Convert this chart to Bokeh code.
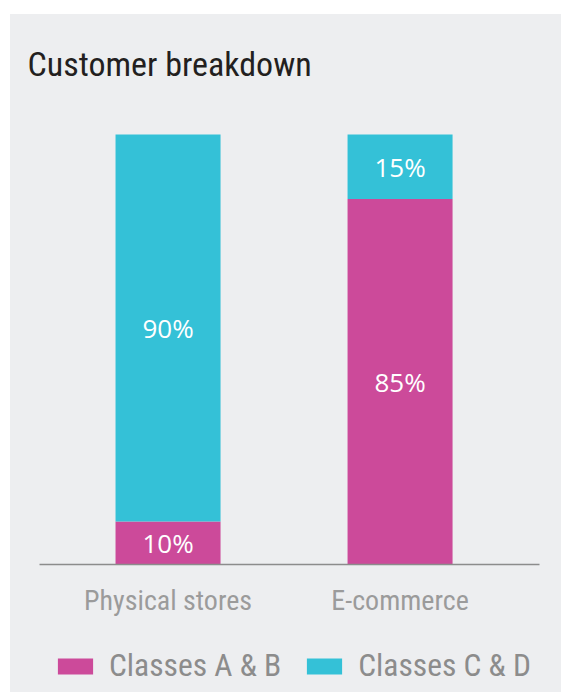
from bokeh.plotting import figure
from bokeh.models import (ColumnDataSource, Range1d, FixedTicker, Legend, LegendItem, Spacer)
from bokeh.layouts import column, row
from bokeh.core.properties import value
from bokeh.embed import file_html
from bokeh.resources import INLINE

# ---- data ----
categories = ["Physical stores", "E-commerce"]
classes_ab = [10, 85]
classes_cd = [90, 15]
series_names = ["Classes A & B", "Classes C & D"]
title_text = "Customer breakdown"

PINK = "#CC4A9A"
CYAN = "#34C1D7"
BG = "#EDEEF0"
NARROW = "Roboto Condensed"

xs = [i + 0.5 for i in range(len(categories))]
lab_ab = [f"{v}%" for v in classes_ab]
lab_cd = [f"{v}%" for v in classes_cd]
y_ab = [v / 2 for v in classes_ab]
y_cd = [a + c / 2 for a, c in zip(classes_ab, classes_cd)]

source = ColumnDataSource(dict(x=xs, ab=classes_ab, cd=classes_cd))

# ---- main chart ----
p = figure(frame_width=500, frame_height=464, output_backend="svg", toolbar_location=None,
           x_range=Range1d(-0.054, 2.101), y_range=Range1d(0, 107.9),
           min_border_left=29, min_border_right=22, min_border_top=86, min_border_bottom=60)
p.background_fill_color = BG
p.border_fill_color = BG
p.outline_line_color = None
p.grid.visible = False
p.yaxis.visible = False

bars = p.vbar_stack(["ab", "cd"], x="x", width=0.4526, color=[PINK, CYAN], line_color=None, source=source)

lsrc = ColumnDataSource(dict(x=xs + xs, y=y_ab + y_cd, t=lab_ab + lab_cd))
p.text(x="x", y="y", text="t", source=lsrc, text_color="white", text_align="center",
       text_baseline="middle", text_font=value("Open Sans"), text_font_size="26px")

ax = p.xaxis[0]
ax.ticker = FixedTicker(ticks=xs)
ax.major_label_overrides = {x: c for x, c in zip(xs, categories)}
ax.major_tick_line_color = None
ax.minor_tick_line_color = None
ax.axis_line_color = "#8C8C8C"
ax.axis_line_width = 1.5
ax.major_label_text_font = NARROW
ax.major_label_text_font_size = "28px"
ax.major_label_text_color = "#9B9B9B"
ax.major_label_standoff = 13

p.title.text = title_text
p.title.text_font = NARROW
p.title.text_font_size = "34px"
p.title.text_font_style = "normal"
p.title.text_color = "#231F20"
p.title.align = "left"
p.title.offset = -12
p.title.standoff = 34

# ---- legend strip ----
p2 = figure(frame_width=551, frame_height=68, output_backend="svg", toolbar_location=None,
            x_range=Range1d(0, 1), y_range=Range1d(1000, 1001),
            x_axis_location=None, y_axis_location=None,
            min_border_left=0, min_border_right=0, min_border_top=0, min_border_bottom=0)
p2.background_fill_color = BG
p2.border_fill_color = BG
p2.outline_line_color = None
p2.grid.visible = False
swatches = p2.vbar_stack(["ab", "cd"], x="x", width=0.4526, color=[PINK, CYAN], line_color=None, source=source)

legend = Legend(items=[LegendItem(label=series_names[0], renderers=[swatches[0]]),
                       LegendItem(label=series_names[1], renderers=[swatches[1]])],
                orientation="horizontal", location=(43, 8))
legend.glyph_width = 44
legend.glyph_height = 20
legend.label_standoff = 12
legend.spacing = 21
legend.label_text_font = NARROW
legend.label_text_font_size = "31.5px"
legend.label_text_color = "#8C8C8C"
legend.border_line_color = None
legend.background_fill_alpha = 0
legend.padding = 0
legend.margin = 0
p2.add_layout(legend)

inner = column(p, p2, spacing=0, styles={"background-color": BG})
layout = column(Spacer(height=14), row(Spacer(width=10), inner, spacing=0), spacing=0)
open("out.html", "w").write(file_html(layout, INLINE))
